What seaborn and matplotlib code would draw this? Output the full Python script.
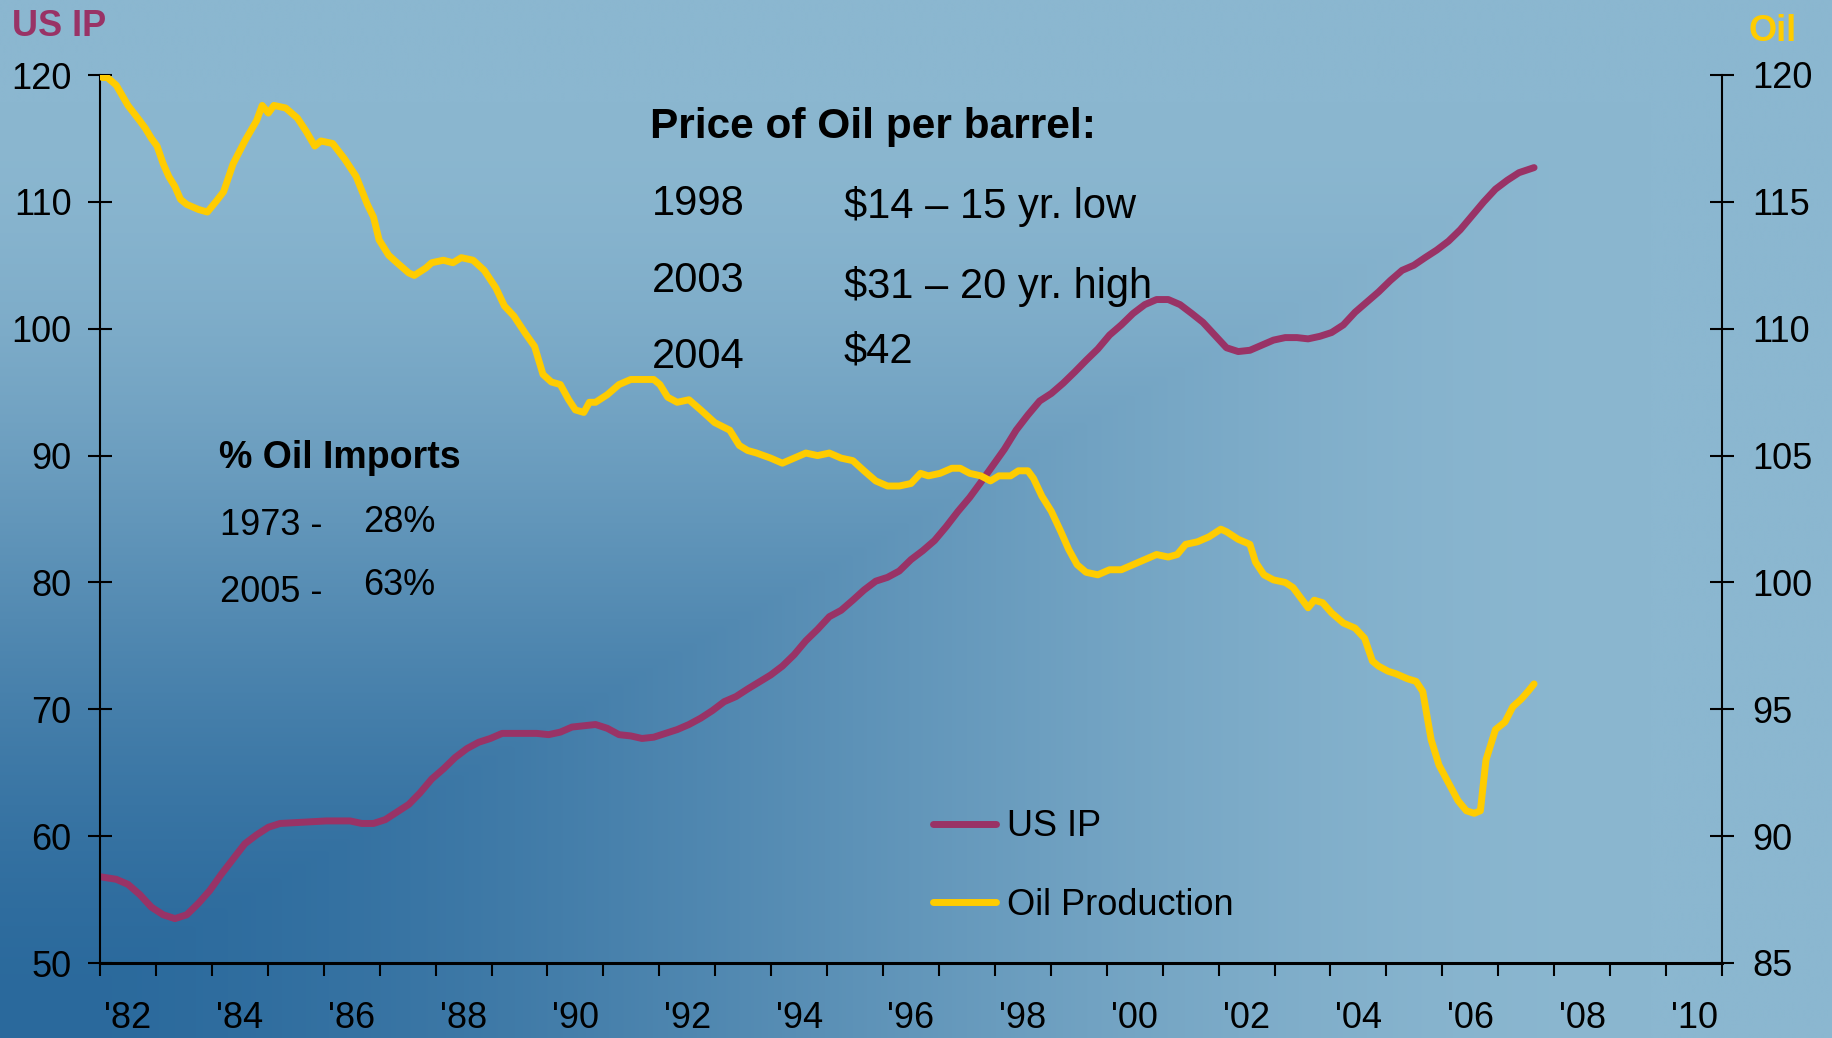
import numpy as np
import pandas as pd
import matplotlib
matplotlib.use("Agg")
import matplotlib.pyplot as plt
import seaborn as sns
from matplotlib.lines import Line2D

# ---------------- data ----------------
ip_years = [1982.00, 1982.29, 1982.50, 1982.71, 1982.92, 1983.13, 1983.34, 1983.55, 1983.76, 1983.96,
            1984.17, 1984.38, 1984.59, 1984.80, 1985.01, 1985.22, 1985.64, 1986.05, 1986.47, 1986.68,
            1986.89, 1987.10, 1987.31, 1987.52, 1987.72, 1987.93, 1988.14, 1988.35, 1988.56, 1988.77,
            1988.98, 1989.19, 1989.40, 1989.81, 1990.02, 1990.23, 1990.44, 1990.86, 1991.07, 1991.28,
            1991.49, 1991.69, 1991.90, 1992.11, 1992.32, 1992.53, 1992.74, 1992.95, 1993.16, 1993.37,
            1993.58, 1993.99, 1994.20, 1994.41, 1994.62, 1994.83, 1995.04, 1995.25, 1995.46, 1995.66,
            1995.87, 1996.08, 1996.29, 1996.50, 1996.71, 1996.92, 1997.13, 1997.34, 1997.55, 1997.75,
            1997.96, 1998.17, 1998.38, 1998.59, 1998.80, 1999.01, 1999.22, 1999.43, 1999.63, 1999.84,
            2000.05, 2000.26, 2000.47, 2000.68, 2000.89, 2001.10, 2001.31, 2001.52, 2001.72, 2001.93,
            2002.14, 2002.35, 2002.56, 2002.77, 2002.98, 2003.19, 2003.40, 2003.60, 2003.81, 2004.02,
            2004.23, 2004.44, 2004.65, 2004.86, 2005.07, 2005.28, 2005.49, 2005.69, 2005.90, 2006.11,
            2006.32, 2006.53, 2006.74, 2006.95, 2007.16, 2007.37, 2007.64]
ip_values = [56.8, 56.6, 56.2, 55.4, 54.4, 53.8, 53.5, 53.8, 54.7, 55.7,
             57.0, 58.2, 59.4, 60.1, 60.7, 61.0, 61.1, 61.2, 61.2, 61.0,
             61.0, 61.3, 61.9, 62.5, 63.4, 64.5, 65.3, 66.2, 66.9, 67.4,
             67.7, 68.1, 68.1, 68.1, 68.0, 68.2, 68.6, 68.8, 68.5, 68.0,
             67.9, 67.7, 67.8, 68.1, 68.4, 68.8, 69.3, 69.9, 70.6, 71.0,
             71.6, 72.7, 73.4, 74.3, 75.4, 76.3, 77.3, 77.8, 78.6, 79.4,
             80.1, 80.4, 80.9, 81.8, 82.5, 83.3, 84.4, 85.6, 86.7, 87.9,
             89.2, 90.5, 92.0, 93.2, 94.3, 94.9, 95.7, 96.6, 97.5, 98.4,
             99.5, 100.3, 101.2, 101.9, 102.3, 102.3, 101.9, 101.2, 100.5, 99.5,
             98.5, 98.2, 98.3, 98.7, 99.1, 99.3, 99.3, 99.2, 99.4, 99.7,
             100.3, 101.3, 102.1, 102.9, 103.8, 104.6, 105.0, 105.6, 106.2, 106.9,
             107.8, 108.9, 110.0, 111.0, 111.7, 112.3, 112.7]

oil_years = [1982.04, 1982.13, 1982.29, 1982.50, 1982.71, 1982.81, 1982.92, 1983.02, 1983.13, 1983.23,
             1983.34, 1983.44, 1983.55, 1983.76, 1983.92, 1984.07, 1984.21, 1984.38, 1984.59, 1984.80,
             1984.90, 1985.01, 1985.11, 1985.32, 1985.53, 1985.68, 1985.84, 1985.95, 1986.16, 1986.37,
             1986.58, 1986.78, 1986.89, 1986.99, 1987.16, 1987.31, 1987.52, 1987.62, 1987.83, 1987.93,
             1988.14, 1988.31, 1988.46, 1988.67, 1988.87, 1989.08, 1989.23, 1989.40, 1989.61, 1989.77,
             1989.92, 1990.07, 1990.23, 1990.38, 1990.50, 1990.65, 1990.75, 1990.86, 1991.07, 1991.28,
             1991.49, 1991.69, 1991.90, 1992.01, 1992.15, 1992.32, 1992.53, 1992.74, 1992.99, 1993.26,
             1993.43, 1993.58, 1993.74, 1993.99, 1994.20, 1994.41, 1994.62, 1994.83, 1995.04, 1995.25,
             1995.46, 1995.66, 1995.87, 1996.08, 1996.29, 1996.50, 1996.67, 1996.81, 1997.02, 1997.23,
             1997.38, 1997.55, 1997.75, 1997.92, 1998.07, 1998.28, 1998.42, 1998.59, 1998.69, 1998.84,
             1999.01, 1999.18, 1999.32, 1999.47, 1999.63, 1999.84, 2000.05, 2000.26, 2000.47, 2000.68,
             2000.89, 2001.10, 2001.26, 2001.41, 2001.62, 2001.83, 2002.04, 2002.14, 2002.35, 2002.56,
             2002.66, 2002.81, 2002.98, 2003.19, 2003.33, 2003.50, 2003.60, 2003.71, 2003.86, 2004.02,
             2004.23, 2004.44, 2004.61, 2004.75, 2004.86, 2005.03, 2005.17, 2005.38, 2005.53, 2005.65,
             2005.80, 2005.94, 2006.11, 2006.28, 2006.43, 2006.57, 2006.68, 2006.78, 2006.95, 2007.12,
             2007.26, 2007.41, 2007.53, 2007.64]
oil_values = [119.9, 119.9, 119.6, 118.8, 118.2, 117.9, 117.5, 117.2, 116.5, 116.0,
              115.6, 115.1, 114.9, 114.7, 114.6, 115.0, 115.4, 116.5, 117.4, 118.2,
              118.8, 118.5, 118.8, 118.7, 118.3, 117.8, 117.2, 117.4, 117.3, 116.7,
              116.0, 114.9, 114.4, 113.5, 112.9, 112.6, 112.2, 112.1, 112.4, 112.6,
              112.7, 112.6, 112.8, 112.7, 112.3, 111.6, 110.9, 110.5, 109.8, 109.3,
              108.2, 107.9, 107.8, 107.2, 106.8, 106.7, 107.1, 107.1, 107.4, 107.8,
              108.0, 108.0, 108.0, 107.8, 107.3, 107.1, 107.2, 106.8, 106.3, 106.0,
              105.4, 105.2, 105.1, 104.9, 104.7, 104.9, 105.1, 105.0, 105.1, 104.9,
              104.8, 104.4, 104.0, 103.8, 103.8, 103.9, 104.3, 104.2, 104.3, 104.5,
              104.5, 104.3, 104.2, 104.0, 104.2, 104.2, 104.4, 104.4, 104.1, 103.4,
              102.8, 102.0, 101.3, 100.7, 100.4, 100.3, 100.5, 100.5, 100.7, 100.9,
              101.1, 101.0, 101.1, 101.5, 101.6, 101.8, 102.1, 102.0, 101.7, 101.5,
              100.8, 100.3, 100.1, 100.0, 99.8, 99.3, 99.0, 99.3, 99.2, 98.8,
              98.4, 98.2, 97.8, 96.9, 96.7, 96.5, 96.4, 96.2, 96.1, 95.7,
              93.8, 92.8, 92.1, 91.4, 91.0, 90.9, 91.0, 93.0, 94.2, 94.5,
              95.1, 95.4, 95.7, 96.0]

year_ticks = list(range(1982, 2012))
label_years = list(range(1982, 2011, 2))
x_tick_labels = ["'82", "'84", "'86", "'88", "'90", "'92", "'94", "'96", "'98",
                 "'00", "'02", "'04", "'06", "'08", "'10"]
left_ticks = [50, 60, 70, 80, 90, 100, 110, 120]
right_ticks = [85, 90, 95, 100, 105, 110, 115, 120]
series_names = ["US IP", "Oil Production"]

IP_COLOR = "#993366"
OIL_COLOR = "#FFCC00"

# ---------------- style ----------------
sns.set_theme(style="ticks")
plt.rcParams['font.family'] = ['Liberation Sans', 'DejaVu Sans']
plt.rcParams['axes.edgecolor'] = 'black'
plt.rcParams['xtick.color'] = 'black'
plt.rcParams['ytick.color'] = 'black'
plt.rcParams['text.color'] = 'black'
plt.rcParams['axes.labelcolor'] = 'black'

W, H = 1832, 1038
fig = plt.figure(figsize=(W / 100, H / 100), dpi=100)


def fx(px):
    return px / W


def fy(py):
    return 1 - py / H


# background gradient (dark in the lower-left corner, light at top and right)
bg = fig.add_axes([0, 0, 1, 1], zorder=-10)
ny, nx = 260, 460
xn = np.linspace(0, 1, nx)[None, :]
yup = np.linspace(1, 0, ny)[:, None]
t = np.maximum(xn, yup) / 0.9
t = np.clip(t, 0, 1)
t = 3 * t ** 2 - 2 * t ** 3
dark = np.array([0x2A, 0x69, 0x9C]) / 255
light = np.array([0x8B, 0xB7, 0xD0]) / 255
img = dark[None, None, :] + (light - dark)[None, None, :] * t[:, :, None]
bg.imshow(img, aspect='auto', extent=[0, 1, 0, 1], interpolation='bilinear')
bg.set_axis_off()

# main axes
ax = fig.add_axes([fx(100), fy(963), fx(1722 - 100), (963 - 75) / H])
ax.patch.set_alpha(0)
ax2 = ax.twinx()
ax2.patch.set_alpha(0)

df_ip = pd.DataFrame({"year": ip_years, "value": ip_values})
df_oil = pd.DataFrame({"year": oil_years, "value": oil_values})

sns.lineplot(data=df_ip, x="year", y="value", ax=ax, color=IP_COLOR, linewidth=5,
             estimator=None, sort=False, legend=False)
sns.lineplot(data=df_oil, x="year", y="value", ax=ax2, color=OIL_COLOR, linewidth=5,
             estimator=None, sort=False, legend=False)
for ln in ax.lines + ax2.lines:
    ln.set_solid_capstyle('round')
    ln.set_solid_joinstyle('round')

ax.set_xlim(1982, 2011)
ax.set_ylim(50, 120)
ax2.set_ylim(85, 120)
ax.set_xlabel("")
ax.set_ylabel("")
ax2.set_xlabel("")
ax2.set_ylabel("")

ax.set_xticks(year_ticks)
ax.set_xticklabels([])
ax.set_xticks([y + 0.5 for y in label_years], minor=True)
ax.set_xticklabels(x_tick_labels, minor=True)
ax.tick_params(axis='x', which='major', direction='out', length=9, width=1.5)
ax.tick_params(axis='x', which='minor', length=0, pad=27, labelsize=26, labelcolor='black')

ax.set_yticks(left_ticks)
ax.tick_params(axis='y', which='major', direction='inout', length=17, width=1.5,
               pad=12, labelsize=26, labelcolor='black')
ax2.set_yticks(right_ticks)
ax2.tick_params(axis='y', which='major', direction='inout', length=17, width=1.5,
                pad=13.5, labelsize=26, labelcolor='black')
ax.yaxis.set_minor_locator(matplotlib.ticker.NullLocator())
ax2.yaxis.set_minor_locator(matplotlib.ticker.NullLocator())

for s in ['top', 'right']:
    ax.spines[s].set_visible(False)
for s in ['top', 'left', 'bottom']:
    ax2.spines[s].set_visible(False)
ax.spines['left'].set_linewidth(1.5)
ax.spines['bottom'].set_linewidth(2.2)
ax2.spines['right'].set_linewidth(1.5)
for sp in list(ax.spines.values()) + list(ax2.spines.values()):
    sp.set_color('black')
ax.grid(False)
ax2.grid(False)

# legend
handles = [Line2D([], [], color=IP_COLOR, lw=5, solid_capstyle='round'),
           Line2D([], [], color=OIL_COLOR, lw=5, solid_capstyle='round')]
fig.legend(handles, series_names, loc='center left', bbox_to_anchor=(fx(933), fy(866)),
           frameon=False, fontsize=26, handlelength=1.75, handletextpad=0.3,
           labelspacing=1.2, borderpad=0, borderaxespad=0, labelcolor='black')

# axis titles
fig.text(fx(12), fy(36), "US IP", color=IP_COLOR, fontsize=26, fontweight='bold', va='baseline')
fig.text(fx(1749), fy(41), "Oil", color=OIL_COLOR, fontsize=26, fontweight='bold', va='baseline')

# annotations
fig.text(fx(650), fy(138), "Price of Oil per barrel:", fontsize=30.5, fontweight='bold',
         va='baseline', color='black')
fig.text(fx(652), fy(215), "1998", fontsize=30, va='baseline', color='black')
fig.text(fx(844), fy(218), "$14 \u2013 15 yr. low", fontsize=30, va='baseline', color='black')
fig.text(fx(652), fy(292), "2003", fontsize=30, va='baseline', color='black')
fig.text(fx(844), fy(298), "$31 \u2013 20 yr. high", fontsize=30, va='baseline', color='black')
fig.text(fx(652), fy(368), "2004", fontsize=30, va='baseline', color='black')
fig.text(fx(844), fy(362), "$42", fontsize=30, va='baseline', color='black')

fig.text(fx(219), fy(468), "% Oil Imports", fontsize=27, fontweight='bold', va='baseline', color='black')
fig.text(fx(220), fy(535), "1973 -", fontsize=26, va='baseline', color='black')
fig.text(fx(363), fy(532), "28%", fontsize=26, va='baseline', color='black')
fig.text(fx(220), fy(602), "2005 -", fontsize=26, va='baseline', color='black')
fig.text(fx(363), fy(595), "63%", fontsize=26, va='baseline', color='black')

fig.savefig("out.png", dpi=100)
